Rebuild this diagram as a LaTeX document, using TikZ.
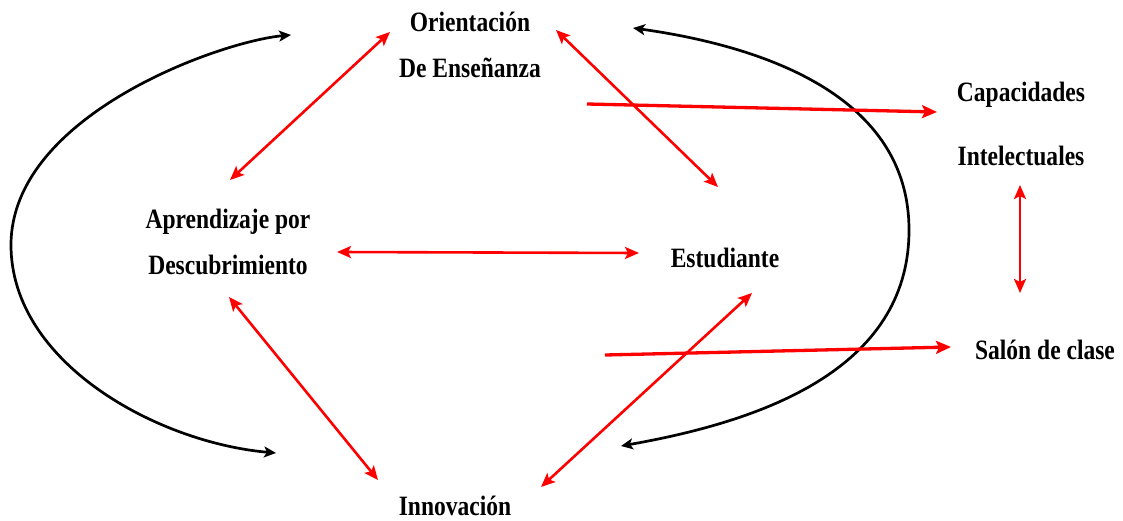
\documentclass[tikz,border=0pt]{standalone}
\usepackage{fontspec}
\setmainfont{Liberation Serif}[FakeStretch=0.84]
\usetikzlibrary{arrows.meta}

\begin{document}
\begin{tikzpicture}[x=1pt,y=1pt,
			concept/.style={inner sep=0pt,align=center,font=\bfseries\fontsize{28}{46}\selectfont},
			link/.style={red,line width=2.6pt,{Stealth[length=14pt,width=12pt,inset=3pt]}-{Stealth[length=14pt,width=12pt,inset=3pt]}},
			flow/.style={red,line width=3.3pt,-{Stealth[length=15pt,width=13pt,inset=3pt]}},
			cycle/.style={black,line width=2.7pt,{Stealth[length=12pt,width=11pt,inset=3pt]}-{Stealth[length=12pt,width=11pt,inset=3pt]}}
			]
			
			\useasboundingbox (0,0) rectangle (1123,520);
			
			\node[concept] (orient) at (470,475) {Orientación\\De Enseñanza};
			\node[concept] (aprend) at (228,278) {Aprendizaje por\\Descubrimiento};
			\node[concept] (estud) at (725,262) {Estudiante};
			\node[concept] (capac) at (1021,396) {Capacidades\\[18pt]Intelectuales};
			\node[concept] (salon) at (1045,170) {Salón de clase};
			\node[concept] (innov) at (455,14) {Innovación};
			
			\draw[cycle] (276,67) to[out=175,in=-90,looseness=0.9] (11,275)
				.. controls +(90:130) and +(185:70) .. (291,485);
			\draw[cycle] (621,74) to[out=10,in=-90] (909,290)
				to[out=90,in=-8] (633,492);
			
			\draw[link] ([shift={(-80,13)}]orient.center) -- ([shift={(2,62)}]aprend.center);
			\draw[link] ([shift={(86,15)}]orient.center) -- ([shift={(-7,71)}]estud.center);
			\draw[flow] ([shift={(117,-59)}]orient.center) -- ([shift={(-84,12)}]capac.center);
			\draw[link] ([shift={(109,-10)}]aprend.center) -- ([shift={(-86,5)}]estud.center);
			\draw[link] ([shift={(-1,-61)}]capac.center) -- ([shift={(-25,57)}]salon.center);
			\draw[flow] ([shift={(-120,-97)}]estud.center) -- ([shift={(-94,3)}]salon.center);
			\draw[link] ([shift={(1,-55)}]aprend.center) -- ([shift={(-77,26)}]innov.center);
			\draw[link] ([shift={(27,-35)}]estud.center) -- ([shift={(86,19)}]innov.center);
			
\end{tikzpicture}
\end{document}
